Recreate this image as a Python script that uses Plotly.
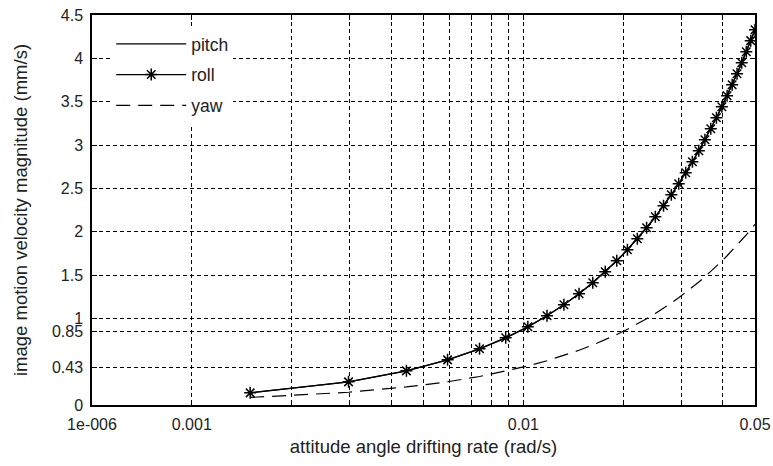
import plotly.graph_objects as go

# ---- data ----
drift_rate = [0.0015, 0.00297, 0.00444, 0.00591, 0.00738, 0.00885, 0.01032, 0.01179,
              0.01326, 0.01473, 0.0162, 0.01767, 0.01914, 0.02061, 0.02208, 0.02355,
              0.02502, 0.02649, 0.02796, 0.02943, 0.0309, 0.03237, 0.03384, 0.03531,
              0.03678, 0.03825, 0.03972, 0.04119, 0.04266, 0.04413, 0.0456, 0.04707,
              0.04854, 0.05]
pitch_v = [0.14, 0.267, 0.394, 0.521, 0.648, 0.775, 0.902, 1.029, 1.156, 1.283, 1.41,
           1.537, 1.664, 1.791, 1.918, 2.045, 2.172, 2.299, 2.426, 2.553, 2.68, 2.807,
           2.934, 3.061, 3.188, 3.315, 3.442, 3.569, 3.696, 3.823, 3.95, 4.077, 4.204, 4.33]
roll_v = [0.14, 0.267, 0.394, 0.521, 0.648, 0.775, 0.902, 1.029, 1.156, 1.283, 1.41,
          1.537, 1.664, 1.791, 1.918, 2.045, 2.172, 2.299, 2.426, 2.553, 2.68, 2.807,
          2.934, 3.061, 3.188, 3.315, 3.442, 3.569, 3.696, 3.823, 3.95, 4.077, 4.204, 4.33]
yaw_v = [0.087, 0.147, 0.208, 0.268, 0.329, 0.39, 0.45, 0.511, 0.571, 0.632, 0.692,
         0.753, 0.814, 0.874, 0.935, 0.995, 1.056, 1.116, 1.177, 1.238, 1.298, 1.359,
         1.419, 1.48, 1.54, 1.601, 1.661, 1.722, 1.783, 1.843, 1.904, 1.964, 2.025, 2.085]

x_tickvals = [0.0005, 0.001, 0.002, 0.003, 0.004, 0.005, 0.006, 0.007, 0.008, 0.009,
              0.01, 0.02, 0.03, 0.04, 0.05]
x_ticktext = ["1e-006", "0.001", "", "", "", "", "", "", "", "", "0.01", "", "", "", "0.05"]
y_tickvals = [0, 0.43, 0.85, 1, 1.5, 2, 2.5, 3, 3.5, 4, 4.5]
y_ticktext = ["0", "0.43", "0.85", "1", "1.5", "2", "2.5", "3", "3.5", "4", "4.5"]

FONT = "Liberation Sans, Arial, sans-serif"
TXT = "#222"

fig = go.Figure()
fig.add_trace(go.Scatter(x=drift_rate, y=pitch_v, mode="lines", name="pitch",
                         legendgroup="a",
                         line=dict(color="black", width=1.3)))
fig.add_trace(go.Scatter(x=drift_rate, y=roll_v, mode="lines+markers", name="roll",
                         legendgroup="b",
                         line=dict(color="black", width=1.3),
                         marker=dict(symbol="asterisk-open", size=10, color="black",
                                     line=dict(color="black", width=1.5))))
fig.add_trace(go.Scatter(x=drift_rate, y=yaw_v, mode="lines", name="yaw",
                         legendgroup="c",
                         line=dict(color="black", width=1.2, dash="14px,8px")))

axis_common = dict(
    showline=True, linecolor="black", linewidth=1.5, mirror="ticks",
    ticks="inside", ticklen=5, tickcolor="black",
    showgrid=True, gridcolor="black", gridwidth=1, griddash="4px,3px",
    zeroline=False, automargin=False,
    tickfont=dict(family=FONT, size=16, color=TXT),
)

fig.update_xaxes(type="log", range=[-3.30103, -1.30103],
                 tickmode="array", tickvals=x_tickvals, ticktext=x_ticktext,
                 ticklabelstandoff=4,
                 title=dict(text="attitude angle drifting rate (rad/s)",
                            font=dict(family=FONT, size=18.5, color=TXT), standoff=8),
                 **axis_common)
fig.update_yaxes(range=[0, 4.5],
                 tickmode="array", tickvals=y_tickvals, ticktext=y_ticktext,
                 ticklabelstandoff=4,
                 title=dict(text="image motion velocity magnitude (mm/s)",
                            font=dict(family=FONT, size=18.5, color=TXT), standoff=19),
                 **axis_common)

fig.update_layout(
    width=773, height=466,
    margin=dict(l=92, r=18, t=15, b=61, autoexpand=False),
    paper_bgcolor="white", plot_bgcolor="white",
    font=dict(family=FONT, size=16, color=TXT),
    legend=dict(x=0.029, y=0.972, xanchor="left", yanchor="top",
                bgcolor="white", borderwidth=0,
                font=dict(family=FONT, size=17.5, color=TXT),
                itemwidth=70, tracegroupgap=5),
    showlegend=True,
)

fig.write_html("out.html", config={"displayModeBar": False},
               post_script="document.body.style.margin='0';")
